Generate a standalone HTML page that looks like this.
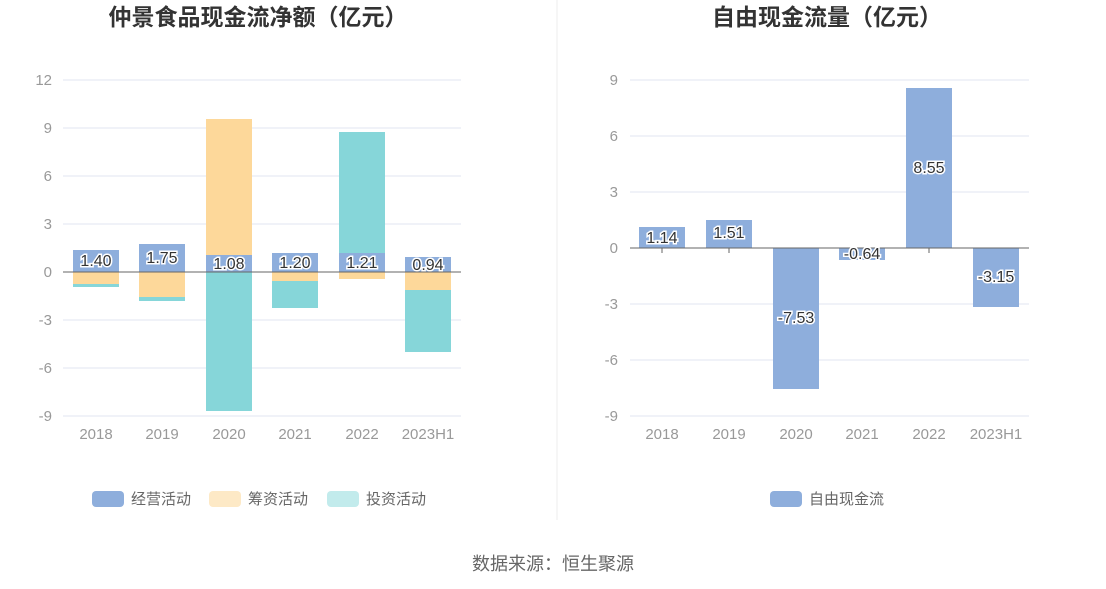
<!DOCTYPE html>
<html><head><meta charset="utf-8"><style>
body{margin:0;background:#fff;}
svg{display:block;font-family:"Liberation Sans","Noto Sans CJK SC",sans-serif;}
.t{font-size:23px;font-weight:bold;fill:#333;text-anchor:middle}
.ax{font-size:15px;fill:#999}
.lb{font-size:16px;fill:#333;text-anchor:middle;stroke:#fff;stroke-width:3px;paint-order:stroke;}
.lg{font-size:15px;fill:#666}
</style></head><body>
<svg width="1106" height="589" viewBox="0 0 1106 589">
<text class="t" x="258" y="25">仲景食品现金流净额（亿元）</text>
<text class="t" x="827" y="25">自由现金流量（亿元）</text>
<line x1="557" y1="0" x2="557" y2="520" stroke="#eee"/>
<g stroke="#e0e6f1">
<line x1="63" x2="461" y1="80" y2="80"/><line x1="63" x2="461" y1="128" y2="128"/><line x1="63" x2="461" y1="176" y2="176"/><line x1="63" x2="461" y1="224" y2="224"/><line x1="63" x2="461" y1="320" y2="320"/><line x1="63" x2="461" y1="368" y2="368"/><line x1="63" x2="461" y1="416" y2="416"/>
</g>
<g class="ax" text-anchor="end">
<text x="52" y="85">12</text><text x="52" y="133">9</text><text x="52" y="181">6</text><text x="52" y="229">3</text><text x="52" y="277">0</text><text x="52" y="325">-3</text><text x="52" y="373">-6</text><text x="52" y="421">-9</text>
</g>
<g fill="#8eaedc">
<rect x="73" y="250" width="46" height="22"/><rect x="139" y="244" width="46" height="28"/><rect x="206" y="255" width="46" height="17"/><rect x="272" y="253" width="46" height="19"/><rect x="339" y="253" width="46" height="19"/><rect x="405" y="257" width="46" height="15"/>
</g>
<g fill="#fdd89a">
<rect x="73" y="272" width="46" height="12"/><rect x="139" y="272" width="46" height="25"/><rect x="206" y="119" width="46" height="136"/><rect x="272" y="272" width="46" height="9"/><rect x="339" y="272" width="46" height="7"/><rect x="405" y="272" width="46" height="18"/>
</g>
<g fill="#86d6d9">
<rect x="73" y="284" width="46" height="3"/><rect x="139" y="297" width="46" height="4"/><rect x="206" y="272" width="46" height="139"/><rect x="272" y="281" width="46" height="27"/><rect x="339" y="132" width="46" height="121"/><rect x="405" y="290" width="46" height="62"/>
</g>
<line x1="63" x2="461" y1="272" y2="272" stroke="#666"/>
<g class="lb"><text x="96" y="266">1.40</text><text x="162" y="263">1.75</text><text x="229" y="269">1.08</text><text x="295" y="268">1.20</text><text x="362" y="268">1.21</text><text x="428" y="270">0.94</text></g>
<g class="ax" text-anchor="middle"><text x="96" y="439">2018</text><text x="162" y="439">2019</text><text x="229" y="439">2020</text><text x="295" y="439">2021</text><text x="362" y="439">2022</text><text x="428" y="439">2023H1</text></g>
<rect x="92" y="491" width="32" height="16" rx="4" fill="#8eaedc"/><text class="lg" x="131" y="504">经营活动</text>
<rect x="209" y="491" width="32" height="16" rx="4" fill="#fde9c6"/><text class="lg" x="248" y="504">筹资活动</text>
<rect x="327" y="491" width="32" height="16" rx="4" fill="#c2ebec"/><text class="lg" x="366" y="504">投资活动</text>
<g stroke="#e0e6f1">
<line x1="630" x2="1029" y1="80" y2="80"/><line x1="630" x2="1029" y1="136" y2="136"/><line x1="630" x2="1029" y1="192" y2="192"/><line x1="630" x2="1029" y1="304" y2="304"/><line x1="630" x2="1029" y1="360" y2="360"/><line x1="630" x2="1029" y1="416" y2="416"/>
</g>
<g class="ax" text-anchor="end">
<text x="618" y="85">9</text><text x="618" y="141">6</text><text x="618" y="197">3</text><text x="618" y="253">0</text><text x="618" y="309">-3</text><text x="618" y="365">-6</text><text x="618" y="421">-9</text>
</g>
<g fill="#8eaedc">
<rect x="639" y="227" width="46" height="21"/><rect x="706" y="220" width="46" height="28"/><rect x="773" y="248" width="46" height="141"/><rect x="839" y="248" width="46" height="12"/><rect x="906" y="88" width="46" height="160"/><rect x="973" y="248" width="46" height="59"/>
</g>
<line x1="630" x2="1029" y1="248" y2="248" stroke="#666"/>
<g stroke="#666"><line x1="662" x2="662" y1="248" y2="253"/><line x1="729" x2="729" y1="248" y2="253"/><line x1="929" x2="929" y1="248" y2="253"/></g>
<g class="lb"><text x="662" y="243">1.14</text><text x="729" y="238">1.51</text><text x="796" y="323">-7.53</text><text x="862" y="259">-0.64</text><text x="929" y="173">8.55</text><text x="996" y="282">-3.15</text></g>
<g class="ax" text-anchor="middle"><text x="662" y="439">2018</text><text x="729" y="439">2019</text><text x="796" y="439">2020</text><text x="862" y="439">2021</text><text x="929" y="439">2022</text><text x="996" y="439">2023H1</text></g>
<rect x="770" y="491" width="32" height="16" rx="4" fill="#8eaedc"/><text class="lg" x="809" y="504">自由现金流</text>
<text x="553" y="570" font-size="18" fill="#666" text-anchor="middle">数据来源：恒生聚源</text>
</svg>
</body></html>
